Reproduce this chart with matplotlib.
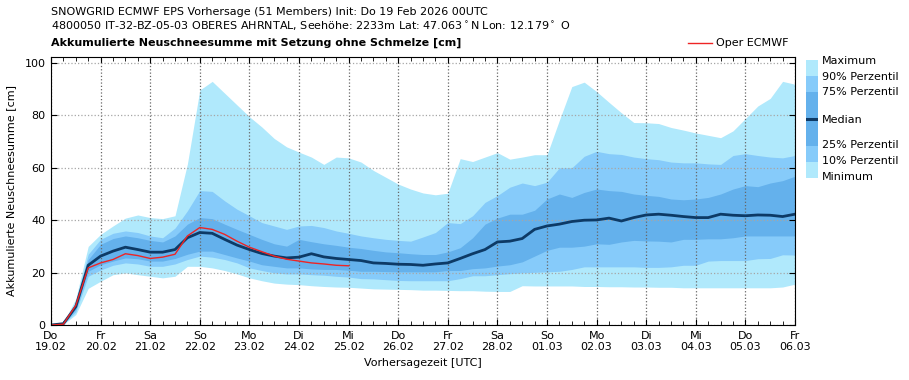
import numpy as np
import matplotlib
matplotlib.use("Agg")
import matplotlib.pyplot as plt
from matplotlib.ticker import MultipleLocator

plt.rcParams['font.family'] = 'DejaVu Sans'
plt.rcParams['font.size'] = 8

# ensemble statistics, 6-hourly from Do 19.02 00UTC (cm)
maximum = [0, 1.0, 10, 30, 34.6, 37.8, 40.8, 42, 41, 40.6, 41.7, 61.5, 89.7, 93.0, 88.5, 84,
           79.5, 75.6, 71.2, 68, 66, 64.1, 61.3, 64.1, 63.8, 62.2, 59, 56.4, 53.8, 51.9, 50.4,
           49.7, 50.3, 63.5, 62.4, 64.1, 65.8, 63.3, 64.1, 65, 65, 78.2, 91, 92.7, 89.1, 85,
           81, 77.3, 77.2, 76.9, 75.4, 74.4, 73.3, 72.4, 71.5, 74.1, 78.8, 83.6, 86.5, 93.0, 91.9]
p90 = [0, 0.8, 9, 27, 32.7, 35, 35.9, 35.3, 34, 33.3, 37, 43.6, 51.3, 51, 47.4, 44.2,
       41.7, 39.1, 37.8, 36.5, 37.8, 38, 37.2, 35.9, 35, 34, 33.3, 32.7, 32.3, 32, 33.6,
       35.3, 39.1, 38.7, 41.7, 46.8, 49.4, 52.6, 54.2, 53.2, 54.5, 60, 60, 64.4, 66.3, 65.4,
       65.1, 64.1, 63.5, 63.1, 62.2, 61.9, 61.9, 61.5, 61.3, 64.7, 65.4, 64.7, 64.1, 63.8, 64.7]
p75 = [0, 0.6, 8, 25, 30.8, 33, 34, 33.3, 32.3, 31.7, 34, 38.5, 41, 40.6, 38.5, 36.5,
       34.6, 32.7, 31, 30.1, 32.7, 31.8, 31, 30.4, 29.7, 29.2, 28.5, 27.9, 27.6, 27.2, 26.9,
       26.9, 27.9, 29.5, 33.3, 38.5, 40.8, 42.3, 42.3, 43.8, 48.1, 50, 48.7, 50.6, 51.9, 51.3,
       51, 50, 49.5, 49.1, 48.1, 47.8, 48.1, 48.7, 50, 51.9, 53.2, 52.8, 54.2, 55.1, 56.8]
median = [0, 0.5, 7, 22.8, 26.3, 28.2, 29.7, 28.8, 27.8, 27.8, 28.8, 33.3, 35.3, 35, 32.7, 30.5,
          28.8, 27.3, 26.3, 25.6, 25.9, 27.2, 26, 25.4, 25, 24.6, 23.7, 23.5, 23.2, 23.1, 22.8,
          23.3, 23.7, 25.4, 27.2, 28.8, 31.7, 32, 33, 36.5, 37.8, 38.5, 39.5, 40, 40.1, 40.8,
          39.7, 41, 42, 42.3, 41.9, 41.4, 41, 41, 42.3, 41.9, 41.7, 42, 41.9, 41.4, 42.3]
p25 = [0, 0.4, 6, 20.5, 23, 24.4, 25.6, 25.3, 24.4, 24.4, 25.4, 27, 28.2, 28.2, 26.9, 25.6,
       24.4, 23, 22.4, 21.8, 21.8, 21.4, 21.2, 21.2, 20.9, 20.5, 20.5, 20.4, 20.3, 20.3, 20.3,
       20.3, 20.8, 20.8, 21.5, 21.8, 22.5, 23, 24.1, 26.3, 28.5, 29.7, 29.7, 30.1, 31, 30.8,
       31.7, 32.3, 32.1, 32, 31.7, 32.7, 32.7, 32.9, 32.9, 33.3, 34, 34, 34, 34, 34]
p10 = [0, 0.3, 5, 18.6, 21, 22.8, 23.7, 23.3, 22.4, 22.4, 23.3, 25, 26.3, 25.9, 25, 23.7,
       21.8, 20.8, 19.9, 19.5, 19.5, 19.2, 19, 18.6, 18.3, 17.7, 17.6, 17.3, 17, 16.9, 16.9,
       16.9, 16.9, 17.7, 18.8, 18.8, 19.2, 19.6, 19.9, 20.1, 20.3, 20.5, 21.2, 22.2, 22.2, 22.2,
       22.2, 22.2, 22, 22, 22.2, 22.8, 22.8, 24.4, 24.6, 24.6, 24.6, 25.3, 25.4, 26.8, 26.7]
minimum = [0, 0.2, 4, 14, 16.7, 19.2, 19.9, 19.2, 18.6, 18, 18.6, 22.4, 22.4, 21.8, 20.8, 19.5,
           18, 16.9, 16, 15.6, 15.4, 15, 14.7, 14.5, 14.4, 14.1, 13.8, 13.7, 13.6, 13.5, 13.3,
           13.3, 13.2, 13.1, 13.1, 12.9, 12.8, 12.8, 15, 14.9, 14.9, 14.9, 14.9, 14.7, 14.7, 14.6,
           14.6, 14.5, 14.5, 14.4, 14.4, 14.2, 14.2, 14.2, 14.2, 14.2, 14.2, 14.2, 14.2, 14.5, 15.6]
# deterministic run, until Mi 25.02 00UTC
oper = [0, 0.3, 7.5, 21.8, 23.7, 25, 27.2, 26.5, 25.4, 25.9, 27, 34, 37.2, 36.5, 34.6, 32,
        29.7, 28, 26.3, 25.1, 24.4, 23.7, 23.3, 22.8, 22.6]

weekdays = ['Do', 'Fr', 'Sa', 'So', 'Mo', 'Di', 'Mi', 'Do', 'Fr', 'Sa', 'So', 'Mo', 'Di', 'Mi', 'Do', 'Fr']
dates = ['19.02', '20.02', '21.02', '22.02', '23.02', '24.02', '25.02', '26.02', '27.02',
         '28.02', '01.03', '02.03', '03.03', '04.03', '05.03', '06.03']

c_min = '#b0e9fc'
c_10 = '#86cbfa'
c_25 = '#64b1ec'
c_med = '#0d3a66'
c_oper = '#ee2424'

t = np.arange(len(median)) * 0.25   # days since init
t_op = np.arange(len(oper)) * 0.25

W, H = 909, 380
fig = plt.figure(figsize=(W / 100, H / 100), dpi=100)
ax = fig.add_axes([51 / W, 1 - 325 / H, 744 / W, 268 / H])

ax.fill_between(t, minimum, maximum, color=c_min, lw=0)
ax.fill_between(t, p10, p90, color=c_10, lw=0)
ax.fill_between(t, p25, p75, color=c_25, lw=0)
ax.plot(t, median, color=c_med, lw=2.0)
ax.plot(t_op, oper, color=c_oper, lw=1.0)

ax.set_xlim(0, 15)
ax.set_ylim(0, 1.1 * max(maximum))
ax.set_xticks(np.arange(len(dates)))
ax.set_xticklabels([w + '\n' + d for w, d in zip(weekdays, dates)])
ax.xaxis.set_minor_locator(MultipleLocator(0.25))
ax.set_yticks([0, 20, 40, 60, 80, 100])
ax.tick_params(which='both', direction='in', top=True, right=True)
ax.tick_params(which='major', length=4, pad=4)
ax.tick_params(which='minor', length=3)
ax.xaxis.grid(True, which='major', ls=':', color='0.4', lw=0.9)
ax.yaxis.grid(True, which='major', ls=':', color='0.65', lw=0.9)
ax.set_xlabel('Vorhersagezeit [UTC]', labelpad=4)
ax.set_ylabel('Akkumulierte Neuschneesumme [cm]', labelpad=6)

fig.text(51 / W, 1 - 12 / H, 'SNOWGRID ECMWF EPS Vorhersage (51 Members) Init: Do 19 Feb 2026 00UTC',
         va='center')
fig.text(51 / W, 1 - 26 / H, r'4800050 IT-32-BZ-05-03 OBERES AHRNTAL, Seehöhe: 2233m Lat: 47.063$^\circ$N Lon: 12.179$^\circ$ O',
         va='center')
fig.text(51 / W, 1 - 43 / H, 'Akkumulierte Neuschneesumme mit Setzung ohne Schmelze [cm]',
         va='center', fontweight='bold')

# Oper legend
fig.add_artist(plt.Line2D([688 / W, 712 / W], [1 - 43 / H, 1 - 43 / H], color=c_oper, lw=1.0))
fig.text(716 / W, 1 - 43 / H, 'Oper ECMWF', va='center')

# colour bar legend on the right
lg = fig.add_axes([806 / W, 1 - 178 / H, 12 / W, 118 / H])
lg.set_xlim(0, 1)
lg.set_ylim(178, 60)
lg.axis('off')
lg.axhspan(60, 76, color=c_min, lw=0)
lg.axhspan(76, 92, color=c_10, lw=0)
lg.axhspan(92, 146, color=c_25, lw=0)
lg.axhspan(146, 162, color=c_10, lw=0)
lg.axhspan(162, 178, color=c_min, lw=0)
lg.axhline(119, color=c_med, lw=2.2)
labels = ['Maximum', '90% Perzentil', '75% Perzentil', 'Median', '25% Perzentil', '10% Perzentil', 'Minimum']
ypos = [61, 77, 92, 120, 145, 161, 177]
for lab, yp in zip(labels, ypos):
    fig.text(822 / W, 1 - yp / H, lab, va='center')

fig.savefig('out.png', dpi=100)
